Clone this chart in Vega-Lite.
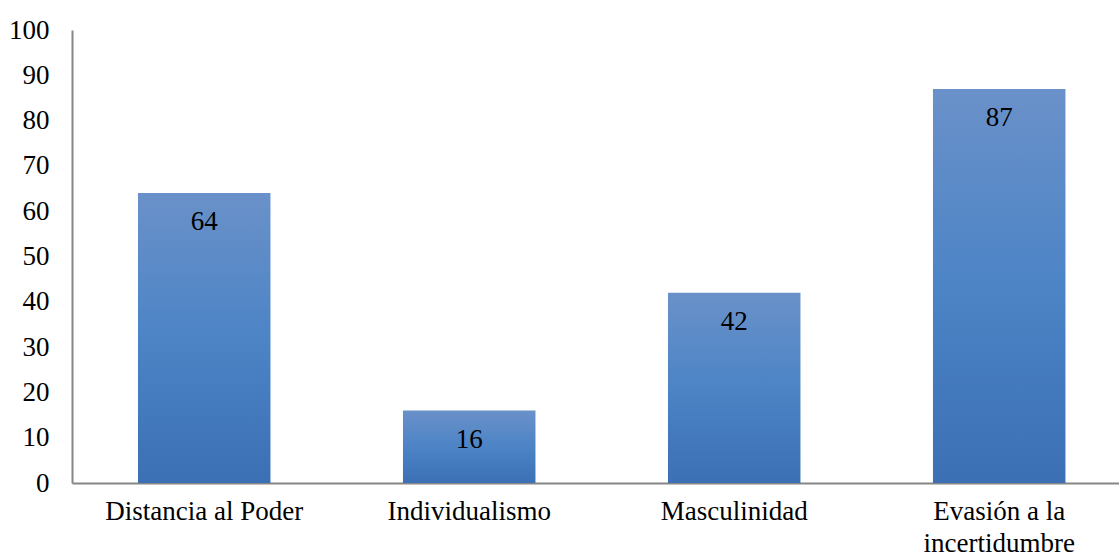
{
  "$schema": "https://vega.github.io/schema/vega-lite/v6.json",
  "autosize": {"type": "none"},
  "padding": {"left": 72, "top": 30, "right": 0, "bottom": 71},
  "width": 1047,
  "height": 453,
  "background": "white",
  "config": {
    "view": {"stroke": null},
    "font": "Liberation Serif",
    "axis": {
      "labelFont": "Liberation Serif",
      "labelFontSize": 27,
      "labelColor": "#000000",
      "domainColor": "#868686",
      "domainWidth": 2,
      "ticks": false,
      "grid": false,
      "title": null
    }
  },
  "data": {
    "values": [
      {"dimension": "Distancia al Poder", "score": 64},
      {"dimension": "Individualismo", "score": 16},
      {"dimension": "Masculinidad", "score": 42},
      {"dimension": "Evasión a la incertidumbre", "score": 87}
    ]
  },
  "encoding": {
    "x": {
      "field": "dimension",
      "type": "nominal",
      "sort": null,
      "scale": {"paddingInner": 0.5, "paddingOuter": 0.2255, "align": 0.552},
      "axis": {
        "labelAngle": 0,
        "labelPadding": 15,
        "labelLineHeight": 32,
        "labelLimit": 400,
        "labelExpr": "datum.label == 'Evasión a la incertidumbre' ? ['Evasión a la', 'incertidumbre'] : datum.label"
      }
    },
    "y": {
      "field": "score",
      "type": "quantitative",
      "scale": {"domain": [0, 100], "nice": false},
      "axis": {"values": [0, 10, 20, 30, 40, 50, 60, 70, 80, 90, 100], "labelPadding": 23}
    }
  },
  "layer": [
    {
      "mark": {
        "type": "bar",
        "color": {
          "gradient": "linear",
          "x1": 0, "y1": 0, "x2": 0, "y2": 1,
          "stops": [
            {"offset": 0, "color": "#6a91c9"},
            {"offset": 0.5, "color": "#4c84c6"},
            {"offset": 1, "color": "#3b70b4"}
          ]
        }
      }
    },
    {
      "mark": {
        "type": "text",
        "baseline": "middle",
        "align": "center",
        "dy": 29,
        "fontSize": 27,
        "font": "Liberation Serif",
        "color": "#000000"
      },
      "encoding": {"text": {"field": "score", "type": "quantitative"}}
    }
  ]
}
